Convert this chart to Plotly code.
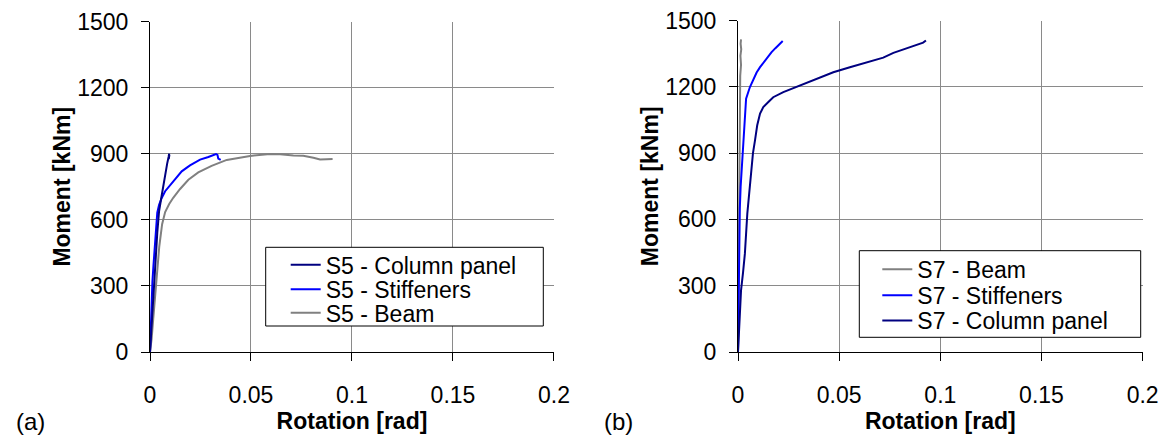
import plotly.graph_objects as go

# ---------------- data (a) S5 ----------------
s5_col_rot = [0, 0.0006, 0.0012, 0.002, 0.0028, 0.0036, 0.0045, 0.0056, 0.0066, 0.0076, 0.0085, 0.0092, 0.0095, 0.0093, 0.0096]
s5_col_mom = [0, 80, 180, 300, 420, 540, 640, 700, 760, 810, 855, 885, 900, 875, 895]

s5_stf_rot = [0, 0.0004, 0.0008, 0.0012, 0.0017, 0.0026, 0.0036, 0.0045, 0.0056, 0.0075, 0.0095, 0.0115, 0.0136,
              0.0157, 0.0198, 0.0248, 0.0289, 0.0315, 0.0327, 0.0334, 0.0338, 0.035]
s5_stf_mom = [0, 130, 240, 320, 390, 520, 633, 668, 695, 730, 752, 774, 798,
              820, 847, 873, 885, 893, 898, 895, 878, 872]

s5_beam_rot = [0, 0.0008, 0.0016, 0.0025, 0.0035, 0.0046, 0.006, 0.0075, 0.0095, 0.0115, 0.0149, 0.019, 0.0239,
               0.0305, 0.038, 0.0495, 0.0594, 0.0644, 0.071, 0.0759, 0.0809, 0.0842, 0.0875, 0.0904]
s5_beam_mom = [0, 60, 150, 260, 370, 480, 580, 635, 672, 700, 740, 782, 815,
               845, 872, 890, 899, 898, 892, 891, 882, 874, 875, 876]

# ---------------- data (b) S7 ----------------
s7_beam_rot = [0, 0.0002, 0.0004, 0.0006, 0.0008, 0.001, 0.0013, 0.0011, 0.0015, 0.0012, 0.0016, 0.0013, 0.0015]
s7_beam_mom = [0, 250, 500, 750, 950, 1100, 1200, 1250, 1300, 1340, 1370, 1395, 1415]

s7_stf_rot = [0, 0.0002, 0.0004, 0.0006, 0.0009, 0.0013, 0.0018, 0.0023, 0.0031, 0.0036, 0.004, 0.0059, 0.0076,
              0.0092, 0.0109, 0.0126, 0.0142, 0.0166, 0.0185, 0.0199, 0.0212, 0.0221]
s7_stf_mom = [0, 150, 320, 536, 650, 747, 830, 898, 1033, 1100, 1146, 1199, 1237,
              1265, 1289, 1310, 1327, 1357, 1375, 1387, 1398, 1407]

s7_col_rot = [0, 0.0004, 0.0008, 0.0015, 0.0025, 0.0034, 0.0046, 0.0062, 0.0074, 0.0084, 0.0095, 0.0109, 0.0125,
              0.015, 0.0174, 0.0224, 0.0306, 0.0389, 0.0471, 0.0553, 0.0636, 0.0718, 0.0768, 0.08, 0.085,
              0.0899, 0.0915, 0.0929]
s7_col_mom = [0, 60, 150, 279, 360, 445, 626, 780, 900, 958, 1026, 1079, 1108,
              1131, 1153, 1176, 1206, 1237, 1266, 1289, 1312, 1332, 1354, 1364, 1380,
              1398, 1400, 1410]

x_ticks = [0, 0.05, 0.1, 0.15, 0.2]
x_tick_text = ["0", "0.05", "0.1", "0.15", "0.2"]
y_ticks = [0, 300, 600, 900, 1200, 1500]

NAVY = "#000080"
BLUE = "#0000FF"
GRAY = "#808080"
FONT = "Liberation Sans, Arial, sans-serif"
OFF = 8  # page body margin
W, H = 1168 - OFF, 436 - OFF


def fx(p):
    return (p - OFF) / W


def fy(p):
    return 1 - (p - OFF) / H


fig = go.Figure()

# panel (a)
fig.add_trace(go.Scatter(x=s5_beam_rot, y=s5_beam_mom, mode="lines", name="S5 - Beam",
                         line=dict(color=GRAY, width=2), xaxis="x", yaxis="y", legend="legend3"))
fig.add_trace(go.Scatter(x=s5_stf_rot, y=s5_stf_mom, mode="lines", name="S5 - Stiffeners",
                         line=dict(color=BLUE, width=2), xaxis="x", yaxis="y", legend="legend2"))
fig.add_trace(go.Scatter(x=s5_col_rot, y=s5_col_mom, mode="lines", name="S5 - Column panel",
                         line=dict(color=NAVY, width=2), xaxis="x", yaxis="y", legend="legend"))
# panel (b)
fig.add_trace(go.Scatter(x=s7_beam_rot, y=s7_beam_mom, mode="lines", name="S7 - Beam",
                         line=dict(color=GRAY, width=2), xaxis="x2", yaxis="y2", legend="legend4"))
fig.add_trace(go.Scatter(x=s7_stf_rot, y=s7_stf_mom, mode="lines", name="S7 - Stiffeners",
                         line=dict(color=BLUE, width=2), xaxis="x2", yaxis="y2", legend="legend5"))
fig.add_trace(go.Scatter(x=s7_col_rot, y=s7_col_mom, mode="lines", name="S7 - Column panel",
                         line=dict(color=NAVY, width=2), xaxis="x2", yaxis="y2", legend="legend6"))

axis_common = dict(
    showgrid=True, gridcolor="#8a8a8a", gridwidth=1,
    showline=True, linecolor="#000000", linewidth=1,
    zeroline=False, ticks="outside", ticklen=8, tickcolor="#000000", tickwidth=1,
    tickfont=dict(family=FONT, size=23, color="#000000"),
    automargin=False, ticklabeloverflow="allow",
)

xa = dict(axis_common, range=[0, 0.20002], tickvals=x_ticks, ticktext=x_tick_text,
          ticklabelstandoff=14,
          title=dict(text="<b>Rotation [rad]</b>", font=dict(family=FONT, size=23, color="#000"), standoff=0))
ya = dict(axis_common, range=[0, 1500.2], tickvals=y_ticks, ticklabelstandoff=8,
          title=dict(text="<b>Moment [kNm]</b>", font=dict(family=FONT, size=23, color="#000"), standoff=0))

fig.update_layout(
    width=W, height=H,
    margin=dict(l=0, r=0, t=0, b=0, autoexpand=False),
    paper_bgcolor="white", plot_bgcolor="white",
    xaxis=dict(xa, domain=[fx(150), fx(554)], anchor="y"),
    yaxis=dict(ya, domain=[fy(352), fy(21.5)], anchor="x"),
    xaxis2=dict(xa, domain=[fx(738), fx(1142.7)], anchor="y2"),
    yaxis2=dict(ya, domain=[fy(352), fy(20.5)], anchor="x2"),
    showlegend=True,
)

leg_font = dict(family=FONT, size=23, color="#000000")


def leg(xp, yp):
    return dict(x=fx(xp), xanchor="left", y=fy(yp), yanchor="middle", bgcolor="rgba(0,0,0,0)",
                borderwidth=0, font=leg_font, itemwidth=30, orientation="v")


fig.update_layout(
    legend=leg(285.7, 264.8),
    legend2=leg(285.7, 289.2),
    legend3=leg(285.7, 312.8),
    legend4=leg(877.3, 269.2),
    legend5=leg(877.3, 295.3),
    legend6=leg(877.3, 320.5),
)

# legend frames
fig.add_shape(type="rect", xref="paper", yref="paper", x0=fx(265.7), x1=fx(543.3), y0=fy(326), y1=fy(247.3),
              line=dict(color="#000000", width=1), fillcolor="white", layer="above")
fig.add_shape(type="rect", xref="paper", yref="paper", x0=fx(859.3), x1=fx(1140.7), y0=fy(337.3), y1=fy(250.7),
              line=dict(color="#000000", width=1), fillcolor="white", layer="above")

# panel labels
fig.add_annotation(text="(a)", x=fx(30), y=fy(421), xref="paper", yref="paper", showarrow=False,
                   xanchor="center", yanchor="middle", font=dict(family=FONT, size=24, color="#000"))
fig.add_annotation(text="(b)", x=fx(618), y=fy(421), xref="paper", yref="paper", showarrow=False,
                   xanchor="center", yanchor="middle", font=dict(family=FONT, size=24, color="#000"))

fig.write_html("out.html")
